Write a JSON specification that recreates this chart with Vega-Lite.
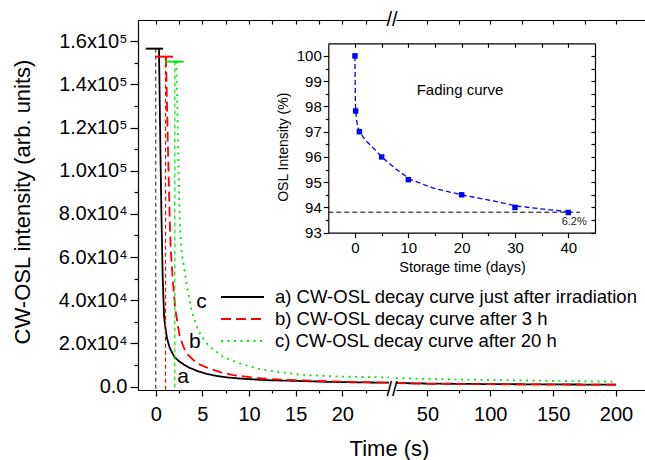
{
  "$schema": "https://vega.github.io/schema/vega-lite/v6.json",
  "width": 507,
  "height": 370,
  "autosize": "none",
  "padding": {"left": 138, "top": 20, "right": 0, "bottom": 70},
  "background": "white",
  "config": {
    "view": {"stroke": null},
    "font": "Liberation Sans",
    "axis": {"grid": false, "domainColor": "black", "tickColor": "black", "labelColor": "black", "titleColor": "black", "labelFont": "Liberation Sans", "titleFont": "Liberation Sans", "titleFontWeight": "normal", "domainWidth": 1.2, "tickWidth": 1.2, "labelFlush": false, "labelOverlap": false},
    "text": {"font": "Liberation Sans"}
  },
  "datasets": {
    "decayL": [
      {"curve": "a) CW-OSL decay curve just after irradiation", "t": 0.35, "v": 156500},
      {"curve": "a) CW-OSL decay curve just after irradiation", "t": 0.5, "v": 110000},
      {"curve": "a) CW-OSL decay curve just after irradiation", "t": 0.61, "v": 80000},
      {"curve": "a) CW-OSL decay curve just after irradiation", "t": 0.75, "v": 50000},
      {"curve": "a) CW-OSL decay curve just after irradiation", "t": 0.89, "v": 33000},
      {"curve": "a) CW-OSL decay curve just after irradiation", "t": 1.0, "v": 28500},
      {"curve": "a) CW-OSL decay curve just after irradiation", "t": 1.2, "v": 22500},
      {"curve": "a) CW-OSL decay curve just after irradiation", "t": 1.5, "v": 18000},
      {"curve": "a) CW-OSL decay curve just after irradiation", "t": 2.0, "v": 13800},
      {"curve": "a) CW-OSL decay curve just after irradiation", "t": 2.5, "v": 11800},
      {"curve": "a) CW-OSL decay curve just after irradiation", "t": 3.0, "v": 10300},
      {"curve": "a) CW-OSL decay curve just after irradiation", "t": 3.6, "v": 8800},
      {"curve": "a) CW-OSL decay curve just after irradiation", "t": 4.5, "v": 7200},
      {"curve": "a) CW-OSL decay curve just after irradiation", "t": 5.4, "v": 6000},
      {"curve": "a) CW-OSL decay curve just after irradiation", "t": 6.5, "v": 5000},
      {"curve": "a) CW-OSL decay curve just after irradiation", "t": 7.6, "v": 4300},
      {"curve": "a) CW-OSL decay curve just after irradiation", "t": 9.0, "v": 3800},
      {"curve": "a) CW-OSL decay curve just after irradiation", "t": 10.0, "v": 3500},
      {"curve": "a) CW-OSL decay curve just after irradiation", "t": 12.0, "v": 3000},
      {"curve": "a) CW-OSL decay curve just after irradiation", "t": 15.0, "v": 2700},
      {"curve": "a) CW-OSL decay curve just after irradiation", "t": 18.0, "v": 2300},
      {"curve": "a) CW-OSL decay curve just after irradiation", "t": 21.0, "v": 2050},
      {"curve": "a) CW-OSL decay curve just after irradiation", "t": 25.0, "v": 1850},
      {"curve": "b) CW-OSL decay curve after 3 h", "t": 1.1, "v": 152800},
      {"curve": "b) CW-OSL decay curve after 3 h", "t": 1.3, "v": 112000},
      {"curve": "b) CW-OSL decay curve after 3 h", "t": 1.5, "v": 77000},
      {"curve": "b) CW-OSL decay curve after 3 h", "t": 1.61, "v": 63300},
      {"curve": "b) CW-OSL decay curve after 3 h", "t": 1.85, "v": 47900},
      {"curve": "b) CW-OSL decay curve after 3 h", "t": 2.11, "v": 35500},
      {"curve": "b) CW-OSL decay curve after 3 h", "t": 2.57, "v": 23200},
      {"curve": "b) CW-OSL decay curve after 3 h", "t": 3.0, "v": 18200},
      {"curve": "b) CW-OSL decay curve after 3 h", "t": 3.3, "v": 15500},
      {"curve": "b) CW-OSL decay curve after 3 h", "t": 4.4, "v": 10800},
      {"curve": "b) CW-OSL decay curve after 3 h", "t": 5.8, "v": 8300},
      {"curve": "b) CW-OSL decay curve after 3 h", "t": 7.0, "v": 6600},
      {"curve": "b) CW-OSL decay curve after 3 h", "t": 8.3, "v": 5400},
      {"curve": "b) CW-OSL decay curve after 3 h", "t": 11.0, "v": 3900},
      {"curve": "b) CW-OSL decay curve after 3 h", "t": 13.0, "v": 3400},
      {"curve": "b) CW-OSL decay curve after 3 h", "t": 15.0, "v": 3000},
      {"curve": "b) CW-OSL decay curve after 3 h", "t": 20.0, "v": 2300},
      {"curve": "b) CW-OSL decay curve after 3 h", "t": 25.0, "v": 1850},
      {"curve": "c) CW-OSL decay curve after 20 h", "t": 2.2, "v": 150500},
      {"curve": "c) CW-OSL decay curve after 20 h", "t": 2.4, "v": 112000},
      {"curve": "c) CW-OSL decay curve after 20 h", "t": 2.57, "v": 77200},
      {"curve": "c) CW-OSL decay curve after 20 h", "t": 2.75, "v": 63300},
      {"curve": "c) CW-OSL decay curve after 20 h", "t": 3.29, "v": 47900},
      {"curve": "c) CW-OSL decay curve after 20 h", "t": 3.83, "v": 35500},
      {"curve": "c) CW-OSL decay curve after 20 h", "t": 4.53, "v": 26300},
      {"curve": "c) CW-OSL decay curve after 20 h", "t": 5.2, "v": 21500},
      {"curve": "c) CW-OSL decay curve after 20 h", "t": 5.79, "v": 18500},
      {"curve": "c) CW-OSL decay curve after 20 h", "t": 7.2, "v": 13900},
      {"curve": "c) CW-OSL decay curve after 20 h", "t": 9.0, "v": 10800},
      {"curve": "c) CW-OSL decay curve after 20 h", "t": 11.0, "v": 8300},
      {"curve": "c) CW-OSL decay curve after 20 h", "t": 13.0, "v": 6900},
      {"curve": "c) CW-OSL decay curve after 20 h", "t": 15.4, "v": 5600},
      {"curve": "c) CW-OSL decay curve after 20 h", "t": 19.0, "v": 4800},
      {"curve": "c) CW-OSL decay curve after 20 h", "t": 22.0, "v": 4500},
      {"curve": "c) CW-OSL decay curve after 20 h", "t": 25.0, "v": 4300}
    ],
    "decayR": [
      {"curve": "a) CW-OSL decay curve just after irradiation", "t": 25, "v": 1700},
      {"curve": "a) CW-OSL decay curve just after irradiation", "t": 50, "v": 1450},
      {"curve": "a) CW-OSL decay curve just after irradiation", "t": 100, "v": 1200},
      {"curve": "a) CW-OSL decay curve just after irradiation", "t": 150, "v": 1050},
      {"curve": "a) CW-OSL decay curve just after irradiation", "t": 200, "v": 950},
      {"curve": "b) CW-OSL decay curve after 3 h", "t": 25, "v": 1650},
      {"curve": "b) CW-OSL decay curve after 3 h", "t": 50, "v": 1350},
      {"curve": "b) CW-OSL decay curve after 3 h", "t": 100, "v": 1150},
      {"curve": "b) CW-OSL decay curve after 3 h", "t": 150, "v": 1000},
      {"curve": "b) CW-OSL decay curve after 3 h", "t": 200, "v": 900},
      {"curve": "c) CW-OSL decay curve after 20 h", "t": 25, "v": 4000},
      {"curve": "c) CW-OSL decay curve after 20 h", "t": 50, "v": 3600},
      {"curve": "c) CW-OSL decay curve after 20 h", "t": 100, "v": 3100},
      {"curve": "c) CW-OSL decay curve after 20 h", "t": 150, "v": 2700},
      {"curve": "c) CW-OSL decay curve after 20 h", "t": 200, "v": 2300}
    ],
    "peaks": [
      {"curve": "a) CW-OSL decay curve just after irradiation", "t": 0.0, "peak": 156500, "lo": -1.07, "hi": 0.78},
      {"curve": "b) CW-OSL decay curve after 3 h", "t": 1.05, "peak": 152800, "lo": -0.03, "hi": 1.86},
      {"curve": "c) CW-OSL decay curve after 20 h", "t": 2.05, "peak": 150500, "lo": 1.04, "hi": 3.0}
    ],
    "labels": [
      {"lab": "a", "t": 2.93, "v": 4630},
      {"lab": "b", "t": 4.18, "v": 20800},
      {"lab": "c", "t": 4.9, "v": 39400}
    ],
    "fit": [
      {"day": 0, "val": 100},
      {"day": 0.03, "val": 99.0},
      {"day": 0.07, "val": 98.3},
      {"day": 0.125, "val": 97.85},
      {"day": 0.3, "val": 97.45},
      {"day": 0.6, "val": 97.15},
      {"day": 1, "val": 96.95},
      {"day": 2, "val": 96.65},
      {"day": 3, "val": 96.45},
      {"day": 5, "val": 96.0},
      {"day": 7.8, "val": 95.5},
      {"day": 10.3, "val": 95.12},
      {"day": 14.6, "val": 94.77},
      {"day": 20, "val": 94.5},
      {"day": 25.9, "val": 94.26},
      {"day": 30.1, "val": 94.06},
      {"day": 35.4, "val": 93.93},
      {"day": 40, "val": 93.83}
    ],
    "pts": [
      {"day": 0, "val": 100.0, "lo": 99.97, "hi": 100.03},
      {"day": 0.125, "val": 97.82, "lo": 97.7, "hi": 97.95},
      {"day": 0.83, "val": 97.0, "lo": 96.9, "hi": 97.1},
      {"day": 5, "val": 96.0, "lo": 95.92, "hi": 96.08},
      {"day": 10, "val": 95.1, "lo": 95.02, "hi": 95.18},
      {"day": 20, "val": 94.5, "lo": 94.44, "hi": 94.56},
      {"day": 30, "val": 94.0, "lo": 93.94, "hi": 94.06},
      {"day": 40, "val": 93.8, "lo": 93.74, "hi": 93.86}
    ]
  },
  "layer": [
    {
      "layer": [
        {
          "layer": [
            {
              "data": {"name": "decayL"},
              "mark": {"type": "line", "strokeWidth": 1.8},
              "encoding": {
                "x": {"field": "t", "type": "quantitative",
                  "scale": {"domain": [-1.9, 25], "range": [0, 251], "nice": false, "zero": false},
                  "axis": {"orient": "bottom", "values": [0, 2.5, 5, 7.5, 10, 12.5, 15, 17.5, 20, 22.5],
                    "labelExpr": "datum.value % 5 === 0 ? format(datum.value, 'd') : ''",
                    "tickSize": {"condition": {"test": "datum.value % 5 === 0", "value": 6}, "value": 3},
                    "labelFontSize": 20, "labelPadding": 8,
                    "title": "Time (s)", "titleFontSize": 22, "titleX": 251, "titleY": 58, "titleAlign": "center", "titleBaseline": "middle"}},
                "y": {"field": "v", "type": "quantitative",
                  "scale": {"domain": [-1530, 169770], "nice": false, "zero": false},
                  "axis": null},
                "color": {"field": "curve", "type": "nominal",
                  "scale": {"domain": ["a) CW-OSL decay curve just after irradiation", "b) CW-OSL decay curve after 3 h", "c) CW-OSL decay curve after 20 h"], "range": ["#000000", "#ff0000", "#00e600"]},
                  "legend": {"orient": "none", "legendX": 82, "legendY": 266, "title": null, "symbolType": "stroke", "symbolSize": 1849, "symbolStrokeWidth": 2, "labelFontSize": 18.5, "labelFont": "Liberation Sans", "labelColor": "black", "labelOffset": 10, "clipHeight": 22, "rowPadding": 0, "padding": 0, "labelLimit": 600}},
                "strokeDash": {"field": "curve", "type": "nominal",
                  "scale": {"domain": ["a) CW-OSL decay curve just after irradiation", "b) CW-OSL decay curve after 3 h", "c) CW-OSL decay curve after 20 h"], "range": [[1, 0], [10, 5], [2, 4.5]]},
                  "legend": {"orient": "none", "legendX": 82, "legendY": 266, "title": null, "symbolType": "stroke", "symbolSize": 1849, "symbolStrokeWidth": 2, "labelFontSize": 18.5, "labelFont": "Liberation Sans", "labelColor": "black", "labelOffset": 10, "clipHeight": 22, "rowPadding": 0, "padding": 0, "labelLimit": 600}}
              }
            },
            {
              "data": {"name": "peaks"},
              "mark": {"type": "rule", "strokeDash": [4, 3], "strokeWidth": 1.2},
              "encoding": {
                "x": {"field": "t", "type": "quantitative", "scale": {"domain": [-1.9, 25], "range": [0, 251], "nice": false, "zero": false}, "axis": null},
                "y": {"field": "peak", "type": "quantitative", "scale": {"domain": [-1530, 169770], "nice": false, "zero": false}, "axis": null},
                "y2": {"datum": -1530},
                "stroke": {"field": "curve", "type": "nominal", "scale": {"domain": ["a) CW-OSL decay curve just after irradiation", "b) CW-OSL decay curve after 3 h", "c) CW-OSL decay curve after 20 h"], "range": ["#444444", "#ff0000", "#00e600"]}, "legend": null}
              }
            },
            {
              "data": {"name": "peaks"},
              "mark": {"type": "rule", "strokeWidth": 2},
              "encoding": {
                "x": {"field": "lo", "type": "quantitative", "scale": {"domain": [-1.9, 25], "range": [0, 251], "nice": false, "zero": false},
                  "axis": {"orient": "top", "values": [0, 2.5, 5, 7.5, 10, 12.5, 15, 17.5, 20, 22.5], "labels": false, "tickSize": -4, "title": null}},
                "x2": {"field": "hi"},
                "y": {"field": "peak", "type": "quantitative", "scale": {"domain": [-1530, 169770], "nice": false, "zero": false}, "axis": null},
                "color": {"field": "curve", "type": "nominal", "scale": {"domain": ["a) CW-OSL decay curve just after irradiation", "b) CW-OSL decay curve after 3 h", "c) CW-OSL decay curve after 20 h"], "range": ["#000000", "#ff0000", "#00e600"]}, "legend": null}
              }
            },
            {
              "data": {"name": "labels"},
              "mark": {"type": "text", "fontSize": 21, "align": "center", "baseline": "middle", "color": "black"},
              "encoding": {
                "x": {"field": "t", "type": "quantitative", "scale": {"domain": [-1.9, 25], "range": [0, 251], "nice": false, "zero": false}, "axis": null},
                "y": {"field": "v", "type": "quantitative", "scale": {"domain": [-1530, 169770], "nice": false, "zero": false}, "axis": null},
                "text": {"field": "lab"}
              }
            }
          ],
          "resolve": {"axis": {"x": "independent", "y": "independent"}}
        },
        {
          "layer": [
            {
              "data": {"name": "decayR"},
              "mark": {"type": "line", "strokeWidth": 1.8},
              "encoding": {
                "x": {"field": "t", "type": "quantitative",
                  "scale": {"domain": [25, 223.1], "range": [258, 507], "nice": false, "zero": false},
                  "axis": {"orient": "bottom", "values": [50, 75, 100, 125, 150, 175, 200],
                    "labelExpr": "datum.value % 50 === 0 ? format(datum.value, 'd') : ''",
                    "tickSize": {"condition": {"test": "datum.value % 50 === 0", "value": 6}, "value": 3},
                    "labelFontSize": 20, "labelPadding": 8, "title": null}},
                "y": {"field": "v", "type": "quantitative", "scale": {"domain": [-1530, 169770], "nice": false, "zero": false},
                  "axis": {"orient": "left", "values": [0, 10000, 20000, 30000, 40000, 50000, 60000, 70000, 80000, 90000, 100000, 110000, 120000, 130000, 140000, 150000, 160000],
                    "labelExpr": "datum.value % 20000 !== 0 ? '' : datum.value === 0 ? '0.0' : datum.value < 100000 ? format(datum.value/10000, '.1f') + 'x10⁴' : format(datum.value/100000, '.1f') + 'x10⁵'",
                    "tickSize": {"condition": {"test": "datum.value % 20000 === 0", "value": 8}, "value": 4},
                    "labelFontSize": 20, "labelPadding": 3,
                    "title": "CW-OSL intensity (arb. units)", "titleFontSize": 22, "titleX": -116, "titleY": 181.5, "titleAngle": 270, "titleAlign": "center", "titleBaseline": "middle"}},
                "color": {"field": "curve", "type": "nominal", "scale": {"domain": ["a) CW-OSL decay curve just after irradiation", "b) CW-OSL decay curve after 3 h", "c) CW-OSL decay curve after 20 h"], "range": ["#000000", "#ff0000", "#00e600"]}, "legend": null},
                "strokeDash": {"field": "curve", "type": "nominal", "scale": {"domain": ["a) CW-OSL decay curve just after irradiation", "b) CW-OSL decay curve after 3 h", "c) CW-OSL decay curve after 20 h"], "range": [[1, 0], [10, 5], [2, 4.5]]}, "legend": null}
              }
            },
            {
              "data": {"values": [{}]},
              "mark": {"type": "text", "text": "//", "fontSize": 20, "align": "center", "baseline": "middle", "dx": -4, "color": "black"},
              "encoding": {
                "x": {"datum": 25, "type": "quantitative", "scale": {"domain": [25, 223.1], "range": [258, 507], "nice": false, "zero": false},
                  "axis": {"orient": "top", "values": [50, 75, 100, 125, 150, 175, 200], "labels": false, "tickSize": -4, "title": null}},
                "y": {"datum": -1530, "type": "quantitative", "scale": {"domain": [-1530, 169770], "nice": false, "zero": false}, "axis": null}
              }
            },
            {
              "data": {"values": [{}]},
              "mark": {"type": "text", "text": "//", "fontSize": 20, "align": "center", "baseline": "middle", "dx": -4, "color": "black"},
              "encoding": {
                "x": {"datum": 25, "type": "quantitative", "scale": {"domain": [25, 223.1], "range": [258, 507], "nice": false, "zero": false}, "axis": null},
                "y": {"datum": 169770, "type": "quantitative", "scale": {"domain": [-1530, 169770], "nice": false, "zero": false}, "axis": null}
              }
            }
          ],
          "resolve": {"axis": {"x": "independent", "y": "independent"}}
        }
      ],
      "resolve": {"scale": {"x": "independent"}, "axis": {"x": "independent", "y": "independent"}}
    },
    {
      "layer": [
        {
          "data": {"name": "fit"},
          "mark": {"type": "line", "color": "#0000ff", "strokeDash": [5, 3], "strokeWidth": 1.3},
          "encoding": {
            "x": {"field": "day", "type": "quantitative",
              "scale": {"domain": [-5, 45], "range": [190.3, 457], "nice": false, "zero": false},
              "axis": {"orient": "bottom", "offset": -157.33, "values": [0, 5, 10, 15, 20, 25, 30, 35, 40],
                "labelExpr": "datum.value % 10 === 0 ? format(datum.value, 'd') : ''",
                "tickSize": {"condition": {"test": "datum.value % 10 === 0", "value": 5}, "value": 3},
                "labelFontSize": 15, "labelPadding": 3,
                "title": "Storage time (days)", "titleFontSize": 14.5, "titleX": 324, "titleY": 35.3, "titleAlign": "center", "titleBaseline": "middle"}},
            "y": {"field": "val", "type": "quantitative",
              "scale": {"domain": [93, 100.5], "range": [212.67, 23.3], "nice": false, "zero": false},
              "axis": {"orient": "left", "offset": -190.3, "values": [93, 93.5, 94, 94.5, 95, 95.5, 96, 96.5, 97, 97.5, 98, 98.5, 99, 99.5, 100],
                "labelExpr": "datum.value % 1 === 0 ? format(datum.value, 'd') : ''",
                "tickSize": {"condition": {"test": "datum.value % 1 === 0", "value": 5}, "value": 3},
                "labelFontSize": 15, "labelPadding": 2,
                "title": "OSL Intensity (%)", "titleFontSize": 14, "titleX": -44.7, "titleY": 126.7, "titleAngle": 270, "titleAlign": "center", "titleBaseline": "middle"}}
          }
        },
        {
          "data": {"name": "pts"},
          "mark": {"type": "rule", "color": "#0000ff", "strokeWidth": 1.2},
          "encoding": {
            "x": {"field": "day", "type": "quantitative", "scale": {"domain": [-5, 45], "range": [190.3, 457], "nice": false, "zero": false}, "axis": null},
            "y": {"field": "lo", "type": "quantitative", "scale": {"domain": [93, 100.5], "range": [212.67, 23.3], "nice": false, "zero": false}, "axis": null},
            "y2": {"field": "hi"}
          }
        },
        {
          "data": {"name": "pts"},
          "mark": {"type": "square", "filled": true, "color": "#0000ff", "size": 30, "opacity": 1},
          "encoding": {
            "x": {"field": "day", "type": "quantitative", "scale": {"domain": [-5, 45], "range": [190.3, 457], "nice": false, "zero": false},
              "axis": {"orient": "top", "offset": -23.3, "values": [0, 5, 10, 15, 20, 25, 30, 35, 40], "labels": false, "tickSize": -4, "title": null}},
            "y": {"field": "val", "type": "quantitative", "scale": {"domain": [93, 100.5], "range": [212.67, 23.3], "nice": false, "zero": false},
              "axis": {"orient": "right", "offset": -50, "values": [93, 93.5, 94, 94.5, 95, 95.5, 96, 96.5, 97, 97.5, 98, 98.5, 99, 99.5, 100], "labels": false, "tickSize": -4, "title": null}}
          }
        },
        {
          "data": {"values": [{}]},
          "mark": {"type": "rule", "strokeDash": [5, 3], "color": "black", "strokeWidth": 1},
          "encoding": {
            "x": {"datum": -5, "type": "quantitative", "scale": {"domain": [-5, 45], "range": [190.3, 457], "nice": false, "zero": false}, "axis": null},
            "x2": {"datum": 42.2},
            "y": {"datum": 93.81, "type": "quantitative", "scale": {"domain": [93, 100.5], "range": [212.67, 23.3], "nice": false, "zero": false}, "axis": null}
          }
        },
        {
          "data": {"values": [{}]},
          "mark": {"type": "text", "text": "Fading curve", "fontSize": 15, "align": "center", "baseline": "middle", "color": "black"},
          "encoding": {
            "x": {"datum": 19.7, "type": "quantitative", "scale": {"domain": [-5, 45], "range": [190.3, 457], "nice": false, "zero": false}, "axis": null},
            "y": {"datum": 98.65, "type": "quantitative", "scale": {"domain": [93, 100.5], "range": [212.67, 23.3], "nice": false, "zero": false}, "axis": null}
          }
        },
        {
          "data": {"values": [{}]},
          "mark": {"type": "text", "text": "6.2%", "fontSize": 11, "align": "center", "baseline": "middle", "color": "#222222"},
          "encoding": {
            "x": {"datum": 41.1, "type": "quantitative", "scale": {"domain": [-5, 45], "range": [190.3, 457], "nice": false, "zero": false}, "axis": null},
            "y": {"datum": 93.41, "type": "quantitative", "scale": {"domain": [93, 100.5], "range": [212.67, 23.3], "nice": false, "zero": false}, "axis": null}
          }
        }
      ],
      "resolve": {"axis": {"x": "independent", "y": "independent"}}
    }
  ],
  "resolve": {"scale": {"x": "independent", "y": "independent"}}
}
